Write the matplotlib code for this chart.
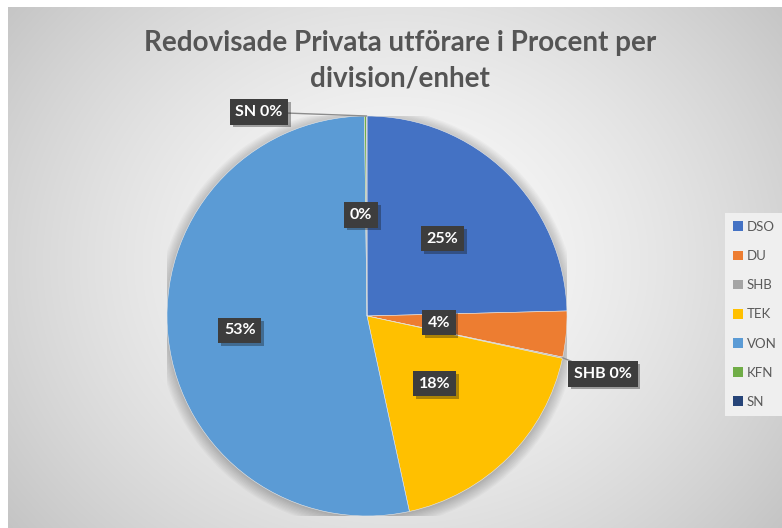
import numpy as np
import matplotlib
matplotlib.use('Agg')
import matplotlib.pyplot as plt
from matplotlib.patches import Circle, Patch
import matplotlib.patheffects as pe

# data (shares in percent, clockwise from 12 o'clock)
categories = ['DSO', 'DU', 'SHB', 'TEK', 'VON', 'KFN', 'SN']
shares = [24.6, 3.7, 0.1, 18.2, 53.2, 0.15, 0.05]
colors = ['#4472C4', '#ED7D31', '#A5A5A5', '#FFC000', '#5B9BD5', '#70AD47', '#264478']
title = 'Redovisade Privata utförare i Procent per\ndivision/enhet'

W, H = 782, 528
fig = plt.figure(figsize=(W / 100, H / 100), dpi=100)
fig.patch.set_facecolor('white')

# radial gradient background of the chart area
bg = fig.add_axes([8 / W, 0, 1 - 8 / W, 1 - 7 / H])
bg.set_axis_off()
yy, xx = np.mgrid[7:H, 8:W]
d = np.hypot(xx - 395, (yy - 262) * 1.15)
t = np.clip(d / d.max(), 0, 1)
g = 0.985 - 0.215 * t ** 1.5
bg.imshow(np.dstack([g, g, g]), aspect='auto', interpolation='bilinear')

# pie axes: centre (367, 316) px, radius 200 px
cx, cy, r = 367, 316, 200
ax = fig.add_axes([(cx - r) / W, (H - cy - r) / H, 2 * r / W, 2 * r / H])
ax.set_axis_off()

# soft shadow under the pie
for k in range(10):
    ax.add_patch(Circle((0.0, -0.01), 1.0 + 0.006 * k, color='black',
                        alpha=0.025, lw=0, zorder=0))

wedges, _ = ax.pie(shares, colors=colors, startangle=90, counterclock=False,
                   radius=1, frame=False, wedgeprops=dict(lw=0.4, edgecolor='#e8e8e8'))
ax.set_xlim(-1, 1)
ax.set_ylim(-1, 1)

box = dict(boxstyle='square,pad=0.35', facecolor='#3d3d3d', edgecolor='none')
shadow = [pe.withSimplePatchShadow(offset=(2, -2), alpha=0.35)]
lab_kw = dict(color='white', fontsize=11.5, fontweight='bold', family='Lato',
              bbox=box, zorder=5, ha='center', va='center')


def mid(w):
    return np.deg2rad((w.theta1 + w.theta2) / 2)


# inside labels: radial factor per slice
inside = {'DSO': 0.54, 'DU': 0.36, 'TEK': 0.48, 'VON': 0.64}
# callouts placed outside the pie (axes data units)
callout = {'SHB': (1.18, -0.29), 'SN': (-0.54, 1.02)}

for w, name, s in zip(wedges, categories, shares):
    lab = f'{round(s):.0f}%'
    if name in inside:
        a = mid(w)
        f = inside[name]
        txt = ax.text(f * np.cos(a), f * np.sin(a), lab, **lab_kw)
    elif name == 'KFN':
        txt = ax.text(-0.03, 0.505, lab, **lab_kw)
    else:
        a = mid(w)
        txt = ax.annotate(f'{name} {lab}', xy=(np.cos(a), np.sin(a)),
                          xytext=callout[name], annotation_clip=False,
                          arrowprops=dict(arrowstyle='-', color='#8c8c8c', lw=1,
                                          shrinkA=0, shrinkB=0), **lab_kw)
    txt.get_bbox_patch().set_path_effects(shadow)

fig.text(400 / W, 1 - 61 / H, title, ha='center', va='center', fontsize=20,
         fontweight='bold', family='Lato', color='#555555', linespacing=1.45)

handles = [Patch(facecolor=c, edgecolor='none') for c in colors]
leg = fig.legend(handles, categories, loc='upper left',
                 bbox_to_anchor=(725 / W, 1 - 213 / H), borderaxespad=0,
                 frameon=True, fancybox=False, facecolor='#efefef', edgecolor='none',
                 framealpha=1, handlelength=0.75, handleheight=0.75,
                 handletextpad=0.3, labelspacing=1.3, borderpad=0.6,
                 prop=dict(family='Lato', size=9.5))
for tx in leg.get_texts():
    tx.set_color('#595959')

fig.savefig('out.png', dpi=100)
